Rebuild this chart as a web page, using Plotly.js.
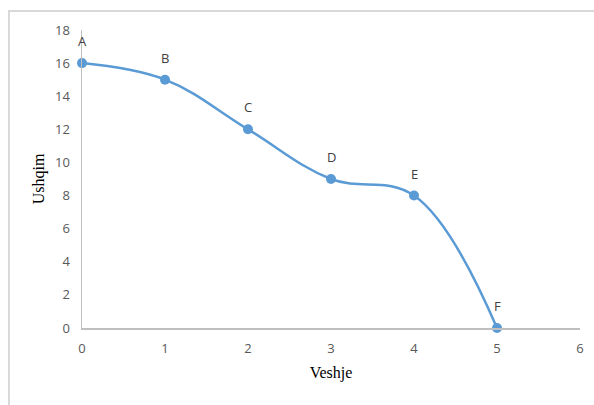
<!DOCTYPE html>
<html>
<head>
<meta charset="utf-8">
<script src="https://cdn.plot.ly/plotly-3.0.1.min.js"></script>
<style>
  html, body { margin: 0; padding: 0; background: #ffffff; }
  #frame {
    position: absolute; left: 8px; top: 10px; width: 600px; height: 420px;
    border-left: 2px solid #d9d9d9; border-top: 2px solid #d9d9d9;
  }
  #chart { position: absolute; left: 0; top: 0; width: 594px; height: 405px; }
</style>
</head>
<body>
<div id="frame"></div>
<div id="chart"></div>
<script>
// Production possibilities: clothing (Veshje) vs food (Ushqim)
const veshje = [0, 1, 2, 3, 4, 5];
const ushqim = [16, 15, 12, 9, 8, 0];
const pointLabels = ['A', 'B', 'C', 'D', 'E', 'F'];
const xTickVals = [0, 1, 2, 3, 4, 5, 6];
const yTickVals = [0, 2, 4, 6, 8, 10, 12, 14, 16, 18];

const trace = {
  x: veshje,
  y: ushqim,
  type: 'scatter',
  mode: 'lines+markers',
  line: { color: '#5b9bd5', width: 2.5, shape: 'spline', smoothing: 1.1 },
  marker: { color: '#5b9bd5', size: 10 },
  cliponaxis: false,
  hoverinfo: 'none'
};

// point letters sit just above each marker
const labelNotes = pointLabels.map((t, i) => ({
  x: veshje[i],
  y: ushqim[i],
  text: t,
  showarrow: false,
  yshift: 22,
  font: { family: 'Open Sans, sans-serif', size: 13, color: '#404040' }
}));

const tickFont = { family: 'Open Sans, sans-serif', size: 13, color: '#595959' };

const layout = {
  width: 594,
  height: 405,
  margin: { l: 82, r: 14, t: 30, b: 77 },
  paper_bgcolor: 'rgba(0,0,0,0)',
  plot_bgcolor: 'rgba(0,0,0,0)',
  showlegend: false,
  annotations: labelNotes,
  xaxis: {
    range: [0, 6],
    tickvals: xTickVals,
    showgrid: false,
    zeroline: false,
    showline: true,
    linecolor: '#bfbfbf',
    linewidth: 1.5,
    ticks: 'outside',
    ticklen: 8,
    tickcolor: 'rgba(0,0,0,0)',
    tickfont: tickFont,
    title: { text: 'Veshje', font: { family: 'Liberation Serif, serif', size: 16, color: '#000000' }, standoff: 10 }
  },
  yaxis: {
    range: [0, 18],
    tickvals: yTickVals,
    showgrid: false,
    zeroline: false,
    showline: true,
    linecolor: '#bfbfbf',
    linewidth: 1.5,
    ticks: 'outside',
    ticklen: 8,
    tickcolor: 'rgba(0,0,0,0)',
    tickfont: tickFont,
    title: { text: 'Ushqim', font: { family: 'Liberation Serif, serif', size: 16, color: '#000000' }, standoff: 6 }
  }
};

Plotly.newPlot('chart', [trace], layout, { displayModeBar: false, staticPlot: true });
</script>
</body>
</html>
